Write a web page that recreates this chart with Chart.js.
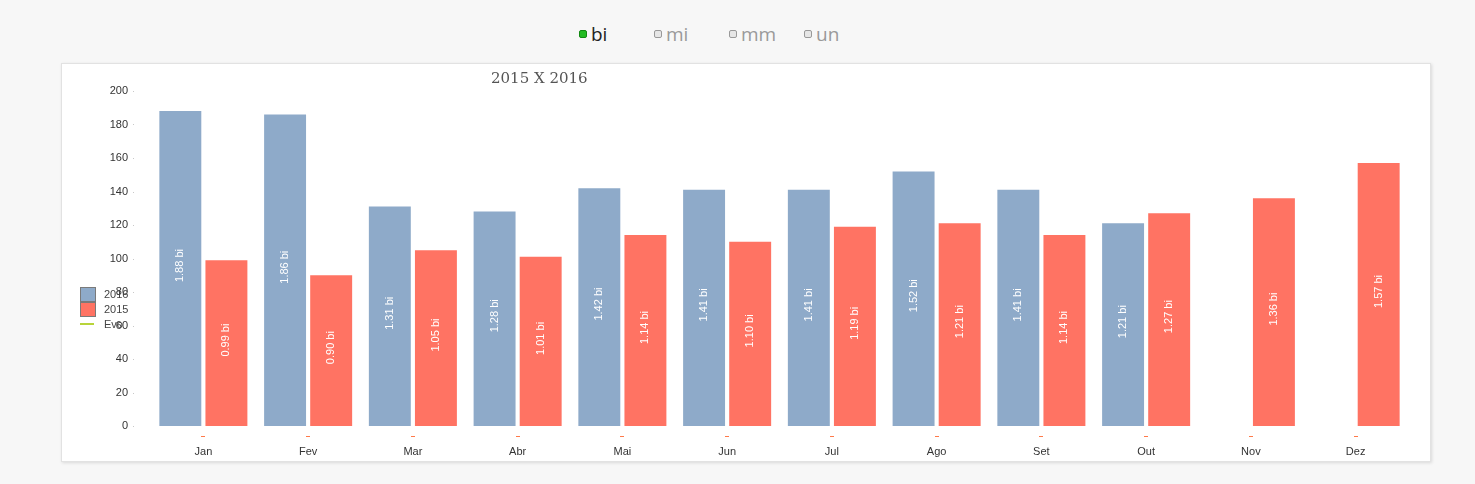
<!DOCTYPE html>
<html>
<head>
<meta charset="utf-8">
<script src="https://cdn.jsdelivr.net/npm/chart.js@4.4.1/dist/chart.umd.min.js"></script>
<style>
    body { margin: 0; background: #f7f7f7; width: 1475px; height: 484px; overflow: hidden; position: relative; font-family: "Open Sans", sans-serif; }
    .unit-btn { position: absolute; top: 20px; font-size: 19px; color: #9a9a9a; line-height: 28px; }
    .unit-btn .box { position: absolute; left: -12px; top: 10px; width: 6px; height: 6px; border: 1px solid #999; border-radius: 2px; background: #e6e6e6; }
    .unit-btn.active { color: #222; }
    .unit-btn.active .box { background: #22bb22; border-color: #118811; }
    #panel { position: absolute; left: 61px; top: 63px; width: 1368px; height: 397px; background: #fff; border: 1px solid #e2e2e2; box-shadow: 1px 1px 3px rgba(0,0,0,0.12); }
    #chart-wrap { position: absolute; left: 0; top: 0; width: 1368px; height: 397px; }
</style>
</head>
<body>
<div class="unit-btn active" style="left:591px"><span class="box"></span>bi</div>
<div class="unit-btn" style="left:666px"><span class="box"></span>mi</div>
<div class="unit-btn" style="left:741px"><span class="box"></span>mm</div>
<div class="unit-btn" style="left:816px"><span class="box"></span>un</div>

<div id="panel">
    <div id="chart-wrap"><canvas id="chart"></canvas></div>
</div>

<script>
// --- Data ---
const months = ['Jan', 'Fev', 'Mar', 'Abr', 'Mai', 'Jun', 'Jul', 'Ago', 'Set', 'Out', 'Nov', 'Dez'];
const values2016 = [188, 186, 131, 128, 142, 141, 141, 152, 141, 121, null, null];
const values2015 = [99, 90, 105, 101, 114, 110, 119, 121, 114, 127, 136, 157];
const yTicks = [0, 20, 40, 60, 80, 100, 120, 140, 160, 180, 200];
const chartTitle = '2015 X 2016';
const legendItems = [
    { label: '2016', color: '#8eaac9', type: 'box' },
    { label: '2015', color: '#ff7363', type: 'box' },
    { label: 'Evo', color: '#b8d43a', type: 'line' }
];

const tickFont = '11px "Liberation Sans", Arial, sans-serif';

// canvas starts at page (62, 64)
const extrasPlugin = {
    id: 'extras',
    afterDatasetsDraw(chart) {
        const ctx = chart.ctx;
        ctx.save();

        // value labels, rotated inside the bars
        ctx.font = tickFont;
        ctx.fillStyle = '#ffffff';
        ctx.textAlign = 'center';
        ctx.textBaseline = 'middle';
        chart.data.datasets.forEach((ds, i) => {
            chart.getDatasetMeta(i).data.forEach((bar, j) => {
                const v = ds.data[j];
                if (v == null) return;
                const cy = (bar.y + bar.base) / 2 - 3;
                ctx.save();
                ctx.translate(bar.x, cy);
                ctx.rotate(-Math.PI / 2);
                ctx.fillText((v / 100).toFixed(2) + ' bi', 0, 0);
                ctx.restore();
            });
        });

        // orange dashes under each category
        const xScale = chart.scales.x;
        ctx.strokeStyle = '#ff7a4a';
        ctx.lineWidth = 1;
        months.forEach((m, i) => {
            const x = Math.round(xScale.getPixelForTick(i));
            ctx.beginPath();
            ctx.moveTo(x - 2, Math.round(chart.chartArea.bottom) + 10.5);
            ctx.lineTo(x + 2, Math.round(chart.chartArea.bottom) + 10.5);
            ctx.stroke();
        });

        // tiny gray tick dots on the y axis
        const yScale = chart.scales.y;
        ctx.fillStyle = '#c8c8c8';
        yTicks.forEach((t) => {
            const y = Math.round(yScale.getPixelForValue(t));
            ctx.fillRect(71, y, 1, 1);
        });

        // title
        ctx.font = '15px "DejaVu Serif", Georgia, serif';
        ctx.fillStyle = '#555555';
        ctx.textAlign = 'left';
        ctx.textBaseline = 'middle';
        ctx.fillText(chartTitle, 429, 15);

        // legend on the left
        ctx.font = tickFont;
        legendItems.forEach((item, i) => {
            const top = 223 + i * 15;
            if (item.type === 'box') {
                ctx.fillStyle = item.color;
                ctx.fillRect(18, top, 16, 15);
                ctx.strokeStyle = '#7a7a7a';
                ctx.lineWidth = 1;
                ctx.strokeRect(18.5, top + 0.5, 15, 14);
                ctx.fillStyle = '#444444';
                ctx.fillText(item.label, 42, top + 8);
            } else {
                ctx.strokeStyle = item.color;
                ctx.lineWidth = 2;
                ctx.beginPath();
                ctx.moveTo(18, top + 7);
                ctx.lineTo(32, top + 7);
                ctx.stroke();
                ctx.fillStyle = '#444444';
                ctx.fillText(item.label, 42, top + 8);
            }
        });

        ctx.restore();
    }
};

new Chart(document.getElementById('chart'), {
    type: 'bar',
    data: {
        labels: months,
        datasets: [
            { label: '2016', data: values2016, backgroundColor: '#8eaac9', categoryPercentage: 0.88, barPercentage: 0.91 },
            { label: '2015', data: values2015, backgroundColor: '#ff7363', categoryPercentage: 0.88, barPercentage: 0.91 }
        ]
    },
    options: {
        responsive: true,
        maintainAspectRatio: false,
        animation: false,
        layout: { padding: { left: 0, right: 22, top: 27, bottom: 0 } },
        plugins: {
            legend: { display: false },
            title: { display: false },
            tooltip: { enabled: false }
        },
        scales: {
            x: {
                grid: { display: false, drawTicks: false },
                border: { display: false },
                ticks: { color: '#333', font: { family: '"Liberation Sans", Arial, sans-serif', size: 11 }, padding: 19, maxRotation: 0 },
                afterFit: (scale) => { scale.height = 35; }
            },
            y: {
                min: 0,
                max: 200,
                // tick marks hidden, their length only spaces the labels from the bars
                grid: { display: false, drawTicks: true, tickLength: 20 },
                border: { display: false },
                afterBuildTicks: (scale) => { scale.ticks = yTicks.map(v => ({ value: v })); },
                ticks: { color: '#333', font: { family: '"Liberation Sans", Arial, sans-serif', size: 11 }, padding: 3 },
                afterFit: (scale) => { scale.width = 89; }
            }
        }
    },
    plugins: [extrasPlugin]
});
</script>
</body>
</html>
